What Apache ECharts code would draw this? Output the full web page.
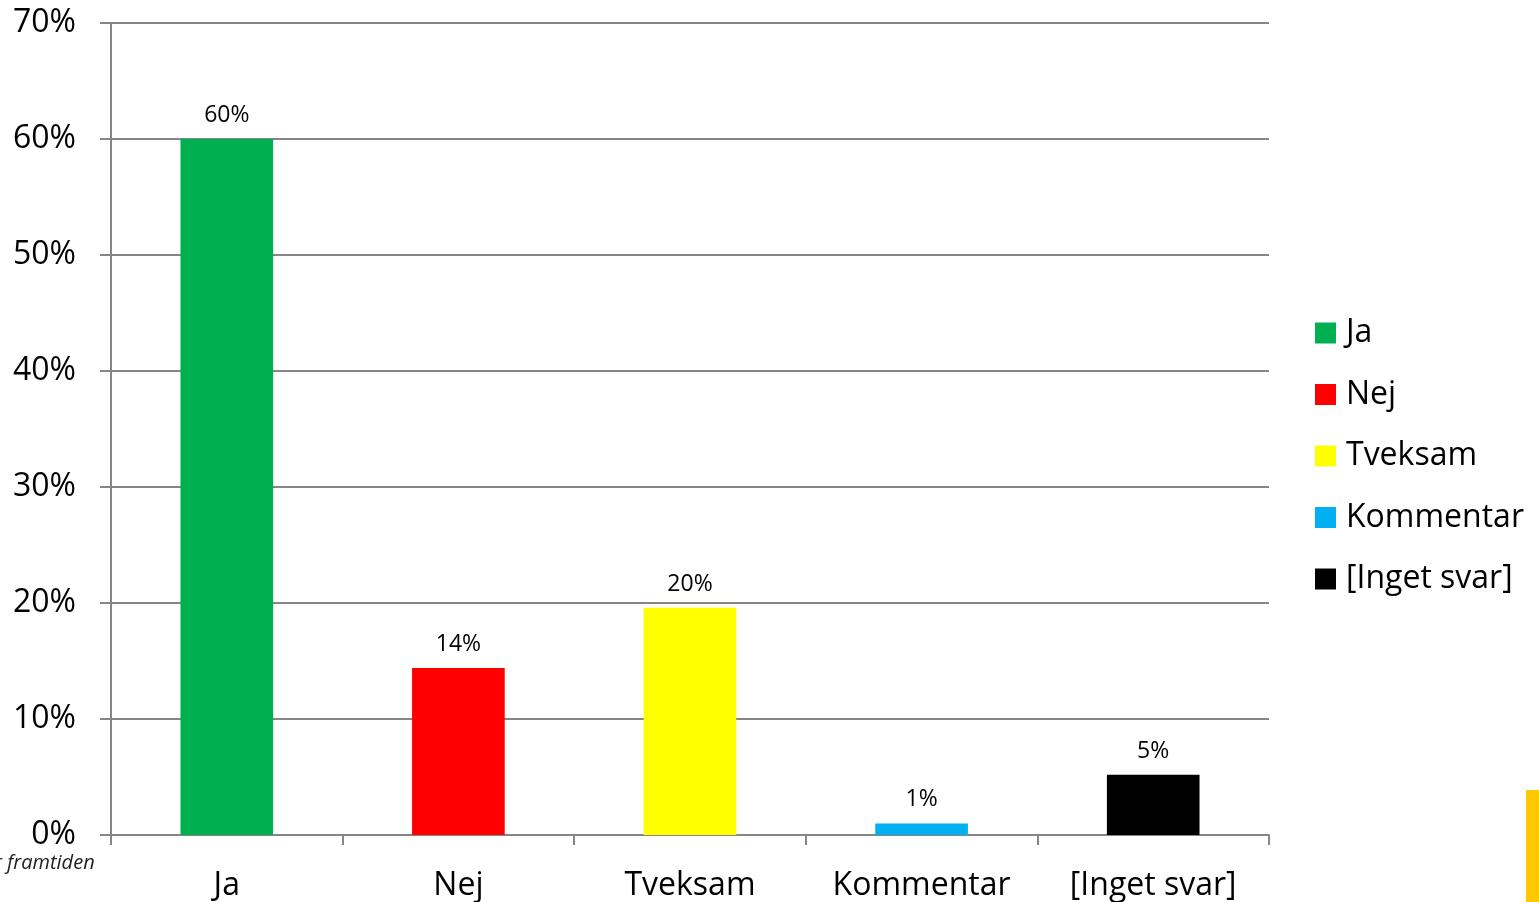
<!DOCTYPE html>
<html>
<head>
<meta charset="utf-8">
<script src="https://cdn.jsdelivr.net/npm/echarts@6/dist/echarts.min.js"></script>
<style>
  html, body { margin: 0; padding: 0; background: #fff; }
  #chart { width: 1539px; height: 902px; }
</style>
</head>
<body>
<div id="chart"></div>
<script>
// kategorier och värden (procent)
var categories = ['Ja', 'Nej', 'Tveksam', 'Kommentar', '[Inget svar]'];
var values = [60, 14.4, 19.6, 1.0, 5.2];
var colors = ['#00B050', '#FF0000', '#FFFF00', '#00B0F0', '#000000'];
var yTicks = [0, 10, 20, 30, 40, 50, 60, 70];

var font = '"Open Sans", "Noto Sans", sans-serif';

var myChart = echarts.init(document.getElementById('chart'));

// en serie per kategori så att legenden får en post per stapel
var series = categories.map(function (name, i) {
  var data = categories.map(function (c, j) { return j === i ? values[i] : '-'; });
  return {
    name: name,
    type: 'bar',
    barWidth: '40%',
    barGap: '-100%',
    itemStyle: { color: colors[i] },
    label: {
      show: true,
      position: 'top',
      distance: 12,
      fontFamily: font,
      fontSize: 23,
      color: '#000',
      formatter: function (p) { return Math.round(p.value) + '%'; }
    },
    data: data
  };
});

var option = {
  animation: false,
  backgroundColor: '#fff',
  grid: { left: 111, right: 270, top: 23, bottom: 67 },
  legend: {
    orient: 'vertical',
    left: 1315,
    top: 317,
    padding: 0,
    itemWidth: 21,
    itemHeight: 21,
    itemGap: 29.5,
    icon: 'rect',
    textStyle: { fontFamily: font, fontSize: 32, color: '#000', lineHeight: 32, padding: [0, 0, 0, 5] },
    data: categories
  },
  xAxis: {
    type: 'category',
    data: categories,
    axisLine: { lineStyle: { color: '#868686', width: 2 } },
    axisTick: { show: true, length: 10, lineStyle: { color: '#868686', width: 2 } },
    axisLabel: { fontFamily: font, fontSize: 32, color: '#000', margin: 35 }
  },
  yAxis: {
    type: 'value',
    min: yTicks[0],
    max: yTicks[yTicks.length - 1],
    interval: 10,
    axisLine: { show: true, lineStyle: { color: '#868686', width: 2 } },
    axisTick: { show: true, length: 11, lineStyle: { color: '#868686', width: 2 } },
    splitLine: { lineStyle: { color: '#868686', width: 2 } },
    axisLabel: {
      fontFamily: font, fontSize: 32, color: '#000', margin: 35,
      formatter: function (v) { return v + '%'; }
    }
  },
  graphic: [
    { type: 'rect', shape: { x: 1526, y: 790, width: 13, height: 112 }, style: { fill: '#FFC800' } },
    { type: 'text', left: -6, top: 853, style: { text: 'r framtiden', font: 'italic 20px "Open Sans", sans-serif', fill: '#222' } }
  ],
  series: series
};

myChart.setOption(option);
</script>
</body>
</html>
